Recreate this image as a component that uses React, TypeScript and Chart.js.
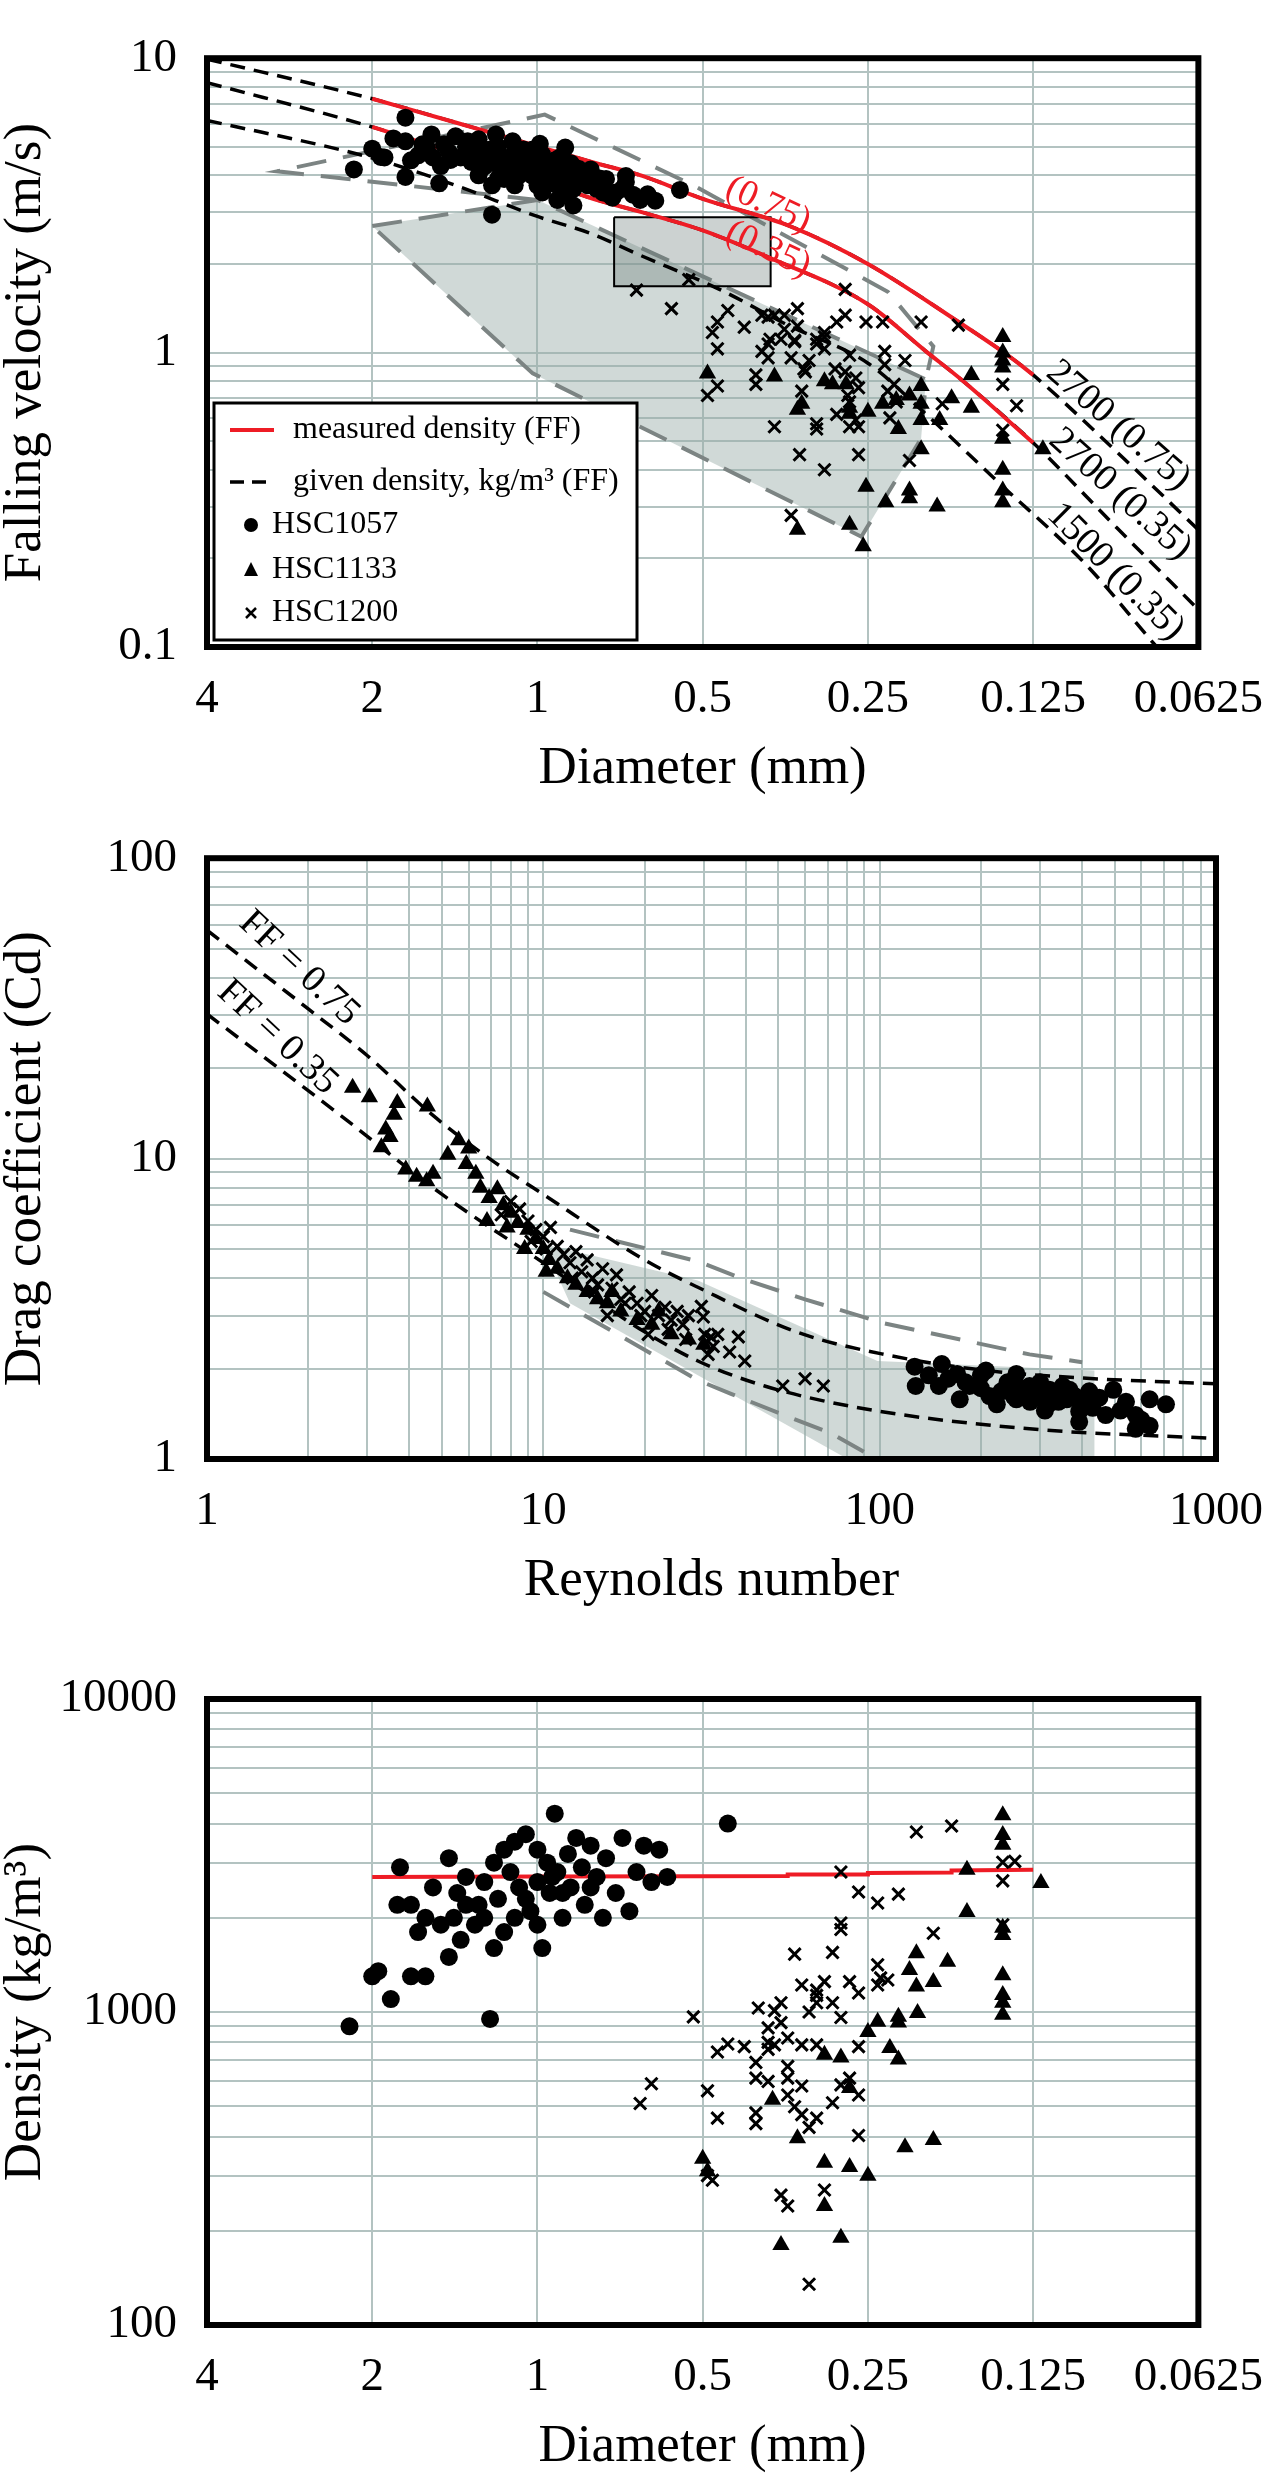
import React, { useEffect, useRef } from 'react';
import { Chart, registerables } from 'chart.js';

Chart.register(...registerables);

const FONT = '"Liberation Serif", "Times New Roman", Times, serif';
const RED = '#ee1c25';
const GRID = '#b3c3c1';
const GRAYDASH = '#7c8483';
const FILL = 'rgba(150,170,166,0.45)';
const BOXFILL = 'rgba(110,125,124,0.35)';

// ---------- axis ticks ----------
const diameterTicks = [4, 2, 1, 0.5, 0.25, 0.125, 0.0625];
const diameterLabels = ['4', '2', '1', '0.5', '0.25', '0.125', '0.0625'];

const velocityGrid = [0.1, 0.2, 0.3, 0.4, 0.5, 0.6, 0.7, 0.8, 0.9, 1, 2, 3, 4, 5, 6, 7, 8, 9, 10];
const velocityLabeled = [0.1, 1, 10];
const velocityLabels = ['0.1', '1', '10'];

const reynoldsGrid = [1, 2, 3, 4, 5, 6, 7, 8, 9, 10, 20, 30, 40, 50, 60, 70, 80, 90, 100, 200, 300, 400, 500, 600, 700, 800, 900, 1000];
const reynoldsLabeled = [1, 10, 100, 1000];
const reynoldsLabels = ['1', '10', '100', '1000'];

const dragGrid = [1, 2, 3, 4, 5, 6, 7, 8, 9, 10, 20, 30, 40, 50, 60, 70, 80, 90, 100];
const dragLabeled = [1, 10, 100];
const dragLabels = ['1', '10', '100'];

const densityGrid = [100, 200, 300, 400, 500, 600, 700, 800, 900, 1000, 2000, 3000, 4000, 5000, 6000, 7000, 8000, 9000, 10000];
const densityLabeled = [100, 1000, 10000];
const densityLabels = ['100', '1000', '10000'];

// ---------- panel 1: falling velocity vs diameter ----------
const velHSC1057 = [
  [1.74, 6.28], [1.83, 5.34], [1.74, 5.22], [2.0, 4.93], [1.93, 4.62], [2.16, 4.19], [1.74, 3.95], [1.51, 3.76],
  [1.56, 5.51], [1.59, 4.97], [1.65, 4.68], [1.41, 5.43], [1.44, 4.51], [1.34, 5.22], [1.32, 4.44], [1.25, 4.28],
  [1.19, 5.51], [1.17, 4.62], [1.15, 3.89], [1.21, 3.7], [1.11, 5.22], [1.09, 4.28], [1.02, 3.98], [0.99, 5.12],
  [0.95, 4.42], [0.92, 3.7], [0.89, 4.97], [0.88, 3.98], [0.86, 4.28], [0.8, 4.19], [0.75, 3.89], [0.73, 3.36],
  [0.69, 3.8], [0.86, 3.16], [1.21, 2.94], [1.04, 4.51], [1.0, 3.7], [0.8, 3.8], [0.74, 3.44], [0.69, 3.98],
  [0.67, 3.44], [0.61, 3.28], [0.55, 3.57], [1.3, 4.9], [1.25, 4.7], [1.2, 4.4], [1.1, 4.8], [1.05, 4.3],
  [1.0, 4.6], [0.97, 4.1], [0.93, 4.5], [0.9, 4.2], [0.85, 3.9], [0.82, 4.0], [0.78, 3.6], [1.15, 4.2],
  [1.08, 4.0], [1.0, 3.9], [0.95, 3.8], [1.38, 4.6], [1.45, 4.8], [1.62, 5.1], [1.7, 4.5], [1.9, 4.6],
  [1.28, 4.0], [0.88, 3.5], [0.92, 3.3], [0.72, 3.5], [0.65, 3.3],
  [1.35, 5.0], [1.28, 5.3], [1.22, 4.9], [1.18, 5.0], [1.12, 4.6], [1.06, 4.9], [1.03, 4.4], [0.98, 4.7],
  [0.96, 4.3], [0.94, 4.0], [0.91, 4.6], [0.87, 4.4], [0.84, 4.2], [0.81, 3.7], [0.77, 3.9], [0.76, 3.5],
  [0.7, 3.6], [1.26, 4.45], [1.14, 4.45], [1.07, 4.55], [1.5, 4.3], [1.55, 4.6], [1.48, 5.1], [1.18, 3.9],
  [1.1, 3.7], [0.98, 3.5], [0.9, 3.8], [1.02, 4.9], [0.86, 3.6], [0.63, 3.45],
];
const velHSC1133 = [
  [0.142, 1.13], [0.49, 0.85], [0.37, 0.83], [0.336, 0.64], [0.33, 0.67], [0.3, 0.8], [0.29, 0.78], [0.274, 0.78],
  [0.27, 0.65], [0.27, 0.62], [0.25, 0.63], [0.235, 0.67], [0.222, 0.69], [0.21, 0.715], [0.2, 0.77], [0.2, 0.67],
  [0.2, 0.59], [0.185, 0.59], [0.176, 0.7], [0.162, 0.84], [0.162, 0.65], [0.22, 0.55], [0.2, 0.47], [0.252, 0.35],
  [0.21, 0.34], [0.21, 0.32], [0.232, 0.31], [0.187, 0.3], [0.27, 0.26], [0.336, 0.25], [0.255, 0.22], [0.142, 0.94],
  [0.142, 0.89], [0.142, 0.51], [0.142, 0.4], [0.142, 0.34], [0.142, 0.31], [0.12, 0.47], [0.142, 1.0],
];
const velHSC1200 = [
  [0.66, 1.63], [0.57, 1.41], [0.53, 1.77], [0.45, 1.39], [0.47, 1.27], [0.48, 1.17], [0.47, 1.03], [0.42, 1.22],
  [0.39, 1.34], [0.38, 1.32], [0.37, 1.34], [0.355, 1.34], [0.336, 1.41], [0.355, 1.2], [0.336, 1.23], [0.377, 1.11],
  [0.34, 1.1], [0.31, 1.11], [0.3, 1.17], [0.275, 1.64], [0.275, 1.34], [0.285, 1.27], [0.252, 1.27], [0.235, 1.27],
  [0.233, 1.01], [0.2, 1.27], [0.171, 1.24], [0.39, 1.01], [0.38, 1.07], [0.36, 1.11], [0.34, 1.09], [0.38, 0.96],
  [0.345, 0.96], [0.32, 0.94], [0.327, 0.88], [0.4, 0.84], [0.4, 0.78], [0.325, 0.86], [0.287, 0.88], [0.27, 0.98],
  [0.275, 0.86], [0.263, 0.82], [0.3, 1.13], [0.31, 1.07], [0.3, 1.03], [0.233, 0.91], [0.214, 0.94], [0.26, 0.76],
  [0.33, 0.74], [0.49, 0.715], [0.47, 0.77], [0.272, 0.715], [0.27, 0.68], [0.23, 0.74], [0.224, 0.78], [0.222, 0.68],
  [0.285, 0.617], [0.263, 0.59], [0.27, 0.56], [0.26, 0.56], [0.31, 0.573], [0.31, 0.55], [0.37, 0.56], [0.228, 0.6],
  [0.183, 0.67], [0.142, 0.78], [0.142, 0.545], [0.134, 0.66], [0.333, 0.45], [0.26, 0.45], [0.3, 0.4], [0.21, 0.43],
  [0.345, 0.28],
];
const velMeasured075 = [[2, 7.28], [1.41, 6.05], [1, 5.03], [0.8, 4.45], [0.646, 3.99], [0.5, 3.33], [0.347, 2.69], [0.25, 2.0], [0.173, 1.29], [0.137, 0.96], [0.125, 0.84]];
const velMeasured035 = [[2, 5.84], [1.41, 4.75], [1, 3.88], [0.8, 3.35], [0.646, 3.0], [0.5, 2.6], [0.38, 2.11], [0.25, 1.46], [0.196, 1.01], [0.169, 0.81], [0.125, 0.494]];
const velGiven2700_075 = [[4, 9.93], [2, 7.28], [1.41, 6.05], [1, 5.03], [0.8, 4.45], [0.646, 3.99], [0.5, 3.33], [0.347, 2.69], [0.25, 2.0], [0.173, 1.29], [0.137, 0.96], [0.125, 0.84], [0.088, 0.46], [0.0625, 0.25]];
const velGiven2700_035 = [[4, 8.26], [2, 5.84], [1.41, 4.75], [1, 3.88], [0.8, 3.35], [0.646, 3.0], [0.5, 2.6], [0.38, 2.11], [0.25, 1.46], [0.196, 1.01], [0.169, 0.81], [0.125, 0.494], [0.088, 0.254], [0.0625, 0.134]];
const velGiven1500_035 = [[4, 6.15], [2, 4.58], [1.41, 3.7], [1, 2.9], [0.8, 2.54], [0.657, 2.16], [0.466, 1.64], [0.35, 1.24], [0.25, 0.92], [0.2, 0.64], [0.144, 0.36], [0.1, 0.19], [0.0744, 0.1], [0.0625, 0.07]];
const velRangeOutline = [[1.0, 3.3], [2.98, 4.13], [0.97, 6.43], [0.52, 3.7], [0.23, 1.61], [0.19, 1.05], [0.196, 0.81]];
const velRangeShaded = [[2.0, 2.69], [1.0, 3.3], [0.196, 0.81], [0.2, 0.51], [0.257, 0.237], [1.02, 0.85], [2.0, 2.69]];
const velInsetBox = [[0.725, 2.88], [0.376, 2.88], [0.376, 1.68], [0.725, 1.68], [0.725, 2.88]];

// ---------- panel 2: drag coefficient vs Reynolds number ----------
const cdHSC1057 = [
  [127, 2.03], [128, 1.75], [153, 2.07], [150, 1.75], [173, 1.58], [207, 1.97], [212, 1.62], [255, 1.92], [255, 1.58],
  [279, 1.75], [317, 1.66], [367, 1.7], [392, 1.44], [392, 1.33], [495, 1.7], [540, 1.55], [577, 1.4], [577, 1.26],
  [635, 1.58], [710, 1.52], [635, 1.29], [470, 1.4], [317, 1.52], [223, 1.52], [185, 1.75], [140, 1.9], [160, 1.85],
  [180, 1.8], [200, 1.72], [230, 1.68], [260, 1.72], [290, 1.6], [320, 1.7], [340, 1.55], [350, 1.75], [380, 1.62],
  [410, 1.55], [430, 1.48], [300, 1.8], [240, 1.8], [270, 1.65], [330, 1.62], [360, 1.58], [420, 1.68], [450, 1.6],
  [520, 1.45], [600, 1.35], [280, 1.55], [250, 1.62], [200, 1.9], [170, 1.92], [310, 1.45], [400, 1.5],
];
const cdHSC1133 = [
  [2.71, 17.2], [3.04, 16.0], [3.68, 15.3], [3.6, 14.0], [4.52, 14.9], [3.4, 12.5], [3.5, 11.8], [3.3, 10.9], [3.9, 9.2],
  [4.2, 8.7], [4.5, 8.4], [4.7, 8.9], [5.6, 11.5], [5.2, 10.3], [6.0, 10.8], [5.9, 9.6], [6.3, 8.9], [6.5, 8.0],
  [6.9, 7.4], [7.3, 7.9], [7.6, 7.0], [8.0, 6.6], [8.4, 6.1], [9.0, 5.8], [9.5, 5.4], [10.0, 5.0], [10.4, 4.6],
  [11.0, 4.3], [11.8, 4.0], [12.5, 3.8], [13.5, 3.6], [14.5, 3.4], [15.5, 3.3], [17, 3.1], [19, 2.9], [21, 2.8],
  [24, 2.6], [27, 2.5], [30, 2.4], [6.8, 6.2], [7.8, 5.9], [8.8, 5.0], [10.2, 4.2], [16, 3.6], [22, 3.1],
];
const cdHSC1200 = [
  [7.5, 6.5], [8, 7.2], [8.5, 6.8], [9, 6.2], [9.2, 5.3], [9.5, 5.8], [10, 5.5], [10.2, 5.0], [10.5, 5.9], [11, 5.1],
  [11.5, 4.8], [12, 4.5], [12.2, 4.0], [12.5, 4.9], [13, 4.2], [13.5, 4.6], [14, 4.0], [14.2, 3.6], [14.5, 3.8],
  [15, 4.3], [15.5, 3.0], [16, 3.7], [16.5, 4.1], [17, 3.4], [17.5, 3.3], [18, 3.6], [19, 3.3], [19.5, 3.0], [20, 3.1],
  [20.5, 2.6], [21, 3.5], [22, 3.0], [23, 3.2], [23.5, 2.7], [24, 2.9], [25, 3.1], [26, 2.8], [26.5, 2.5], [27, 3.0],
  [29.5, 3.22], [29.9, 2.97], [30.2, 2.6], [31.5, 2.55], [33, 2.6], [32, 2.37], [30.9, 2.23], [35.8, 2.27], [38, 2.55],
  [39.7, 2.12], [51.5, 1.75], [60, 1.85], [68, 1.75],
];
const cdFF075 = [[1, 57.6], [2, 31.5], [3, 22], [4.67, 14], [7, 9.9], [10, 7.6], [20, 4.6], [28.8, 3.73], [57, 2.64], [103, 2.23], [200, 1.98], [400, 1.86], [1000, 1.78]];
const cdFF035 = [[1, 30.3], [2.48, 14], [5, 7.6], [10, 4.5], [20, 2.65], [28.8, 2.12], [45.5, 1.75], [90, 1.47], [279, 1.26], [1000, 1.17]];
const cdRangeUpper = [[12, 5.8], [28.8, 4.55], [38.6, 4.0], [60, 3.4], [103, 2.83], [279, 2.23], [400, 2.1]];
const cdRangeLower = [[10, 3.6], [28.8, 1.83], [36, 1.65], [54.5, 1.37], [71.5, 1.22], [95, 1.02], [100, 0.98]];
const cdRangeShaded = [[10, 5.2], [28.8, 3.93], [98.5, 2.12], [435, 1.97], [435, 0.9], [95, 0.9], [28.8, 1.9], [12, 3.3], [10, 5.2]];

// ---------- panel 3: density vs diameter ----------
const rhoHSC1057 = [
  [2.2, 900], [2.0, 1300], [1.95, 1350], [1.85, 1100], [1.8, 2200], [1.78, 2900], [1.7, 1300], [1.65, 1800], [1.6, 2000],
  [1.55, 2500], [1.5, 1900], [1.45, 3100], [1.42, 2000], [1.4, 2400], [1.38, 1700], [1.35, 2700], [1.3, 1900],
  [1.28, 2200], [1.25, 2600], [1.22, 950], [1.2, 3000], [1.18, 2300], [1.15, 1800], [1.12, 2800], [1.1, 3500],
  [1.08, 2500], [1.05, 3700], [1.03, 2100], [1.0, 3300], [1.0, 2600], [0.98, 1600], [0.96, 3000], [0.95, 2400],
  [0.93, 4300], [0.92, 2800], [0.9, 2000], [0.88, 3200], [0.87, 2500], [0.85, 3600], [0.83, 2900], [0.82, 2200],
  [0.8, 3400], [0.78, 2700], [0.76, 2000], [0.75, 3100], [0.72, 2400], [0.7, 3600], [0.68, 2100], [0.66, 2800],
  [0.64, 3400], [0.62, 2600], [0.6, 3300], [0.58, 2700], [0.45, 4000], [1.15, 3300], [1.25, 2000], [1.35, 2200],
  [0.9, 2400], [0.94, 2700], [1.05, 2300], [1.1, 2000], [0.8, 2500], [1.0, 1900], [1.2, 1600], [1.45, 1500],
  [1.6, 1300], [1.7, 2200],
];
const rhoHSC1133 = [
  [0.142, 4255], [0.142, 3675], [0.142, 3420], [0.165, 2845], [0.121, 2583], [0.165, 2085], [0.142, 1762], [0.142, 1860],
  [0.204, 1542], [0.179, 1446], [0.21, 1361], [0.19, 1248], [0.204, 1206], [0.142, 1310], [0.142, 1133], [0.142, 1070],
  [0.142, 980], [0.203, 993], [0.22, 965], [0.22, 925], [0.24, 930], [0.25, 863], [0.228, 767], [0.3, 730], [0.28, 715],
  [0.22, 705], [0.27, 572], [0.373, 524], [0.336, 395], [0.19, 390], [0.214, 370], [0.5, 340], [0.49, 310], [0.3, 330],
  [0.36, 180], [0.28, 190], [0.3, 240], [0.25, 300], [0.27, 320],
];
const rhoHSC1200 = [
  [0.204, 3760], [0.176, 3930], [0.142, 3010], [0.135, 3030], [0.142, 2625], [0.28, 2800], [0.26, 2417], [0.24, 2230],
  [0.22, 2380], [0.28, 1925], [0.28, 1835], [0.19, 1785], [0.142, 1900], [0.34, 1530], [0.29, 1550], [0.24, 1415],
  [0.237, 1285], [0.23, 1265], [0.24, 1220], [0.33, 1220], [0.31, 1130], [0.31, 1175], [0.3, 1250], [0.27, 1250],
  [0.26, 1150], [0.31, 1070], [0.29, 1070], [0.32, 1000], [0.28, 960], [0.396, 1030], [0.37, 1010], [0.36, 1070],
  [0.38, 890], [0.36, 925], [0.35, 826], [0.33, 785], [0.31, 785], [0.26, 775], [0.38, 800], [0.37, 785], [0.38, 760],
  [0.4, 690], [0.42, 775], [0.45, 790], [0.47, 745], [0.52, 965], [0.35, 670], [0.4, 615], [0.38, 600], [0.35, 615],
  [0.33, 580], [0.28, 585], [0.27, 615], [0.26, 543], [0.35, 543], [0.49, 560], [0.47, 458], [0.4, 476], [0.4, 440],
  [0.34, 498], [0.33, 470], [0.31, 458], [0.32, 428], [0.29, 513], [0.26, 403], [0.32, 135], [0.35, 240], [0.36, 260],
  [0.3, 270], [0.49, 300], [0.48, 290], [0.62, 590], [0.65, 510],
];
const rhoMeasured = [[2, 2700], [1, 2710], [0.5, 2715], [0.35, 2720], [0.35, 2750], [0.25, 2750], [0.25, 2780], [0.176, 2790], [0.176, 2830], [0.125, 2845]];

// ---------- helpers ----------
const pts = (arr: number[][]) => arr.map(([x, y]) => ({ x, y }));

type AxisSpec = { min: number; max: number; reverse?: boolean; grid: number[]; labeled: number[]; labels: string[]; title: string };

function makeScales(x: AxisSpec, y: AxisSpec, xHeight: number) {
  const tickFont = { family: FONT, size: 47 };
  const titleFont = { family: FONT, size: 53, lineHeight: 1 };
  return {
    x: {
      type: 'logarithmic', position: 'bottom', min: x.min, max: x.max, reverse: !!x.reverse,
      afterBuildTicks: (s: any) => { s.ticks = x.grid.map((v) => ({ value: v })); },
      afterFit: (s: any) => { s.height = xHeight; },
      grid: { color: GRID, lineWidth: 2, drawTicks: false },
      border: { display: false },
      ticks: {
        autoSkip: false, maxRotation: 0, minRotation: 0, padding: 24, color: '#000', font: tickFont,
        callback: (v: any) => { const i = x.labeled.indexOf(Number(v)); return i >= 0 ? x.labels[i] : ''; },
      },
      title: { display: true, text: x.title, color: '#000', font: titleFont, padding: { top: 0, bottom: 0 } },
    },
    y: {
      type: 'logarithmic', position: 'left', min: y.min, max: y.max,
      afterBuildTicks: (s: any) => { s.ticks = y.grid.map((v) => ({ value: v })); },
      afterFit: (s: any) => { s.width = 207; },
      grid: { color: GRID, lineWidth: 2, drawTicks: false },
      border: { display: false },
      ticks: {
        autoSkip: false, padding: 30, color: '#000', font: tickFont,
        callback: (v: any) => { const i = y.labeled.indexOf(Number(v)); return i >= 0 ? y.labels[i] : ''; },
      },
      title: { display: true, text: y.title, color: '#000', font: titleFont, padding: { top: 0, bottom: 0 } },
    },
  };
}

const scatterSet = (label: string, data: number[][], style: string, order: number) => ({
  label, data: pts(data), showLine: false, order,
  pointStyle: style,
  pointRadius: style === 'circle' ? 9 : style === 'triangle' ? 10 : 8.5,
  pointBackgroundColor: '#000',
  pointBorderColor: '#000',
  pointBorderWidth: style === 'crossRot' ? 3 : 0,
});

const lineSet = (label: string, data: number[][], color: string, width: number, dash: number[], order: number, smooth = true) => ({
  label, data: pts(data), showLine: true, order,
  borderColor: color, borderWidth: width, borderDash: dash, pointRadius: 0, fill: false,
  cubicInterpolationMode: smooth ? 'monotone' : 'default', tension: 0,
});

const shapeSet = (label: string, data: number[][], fillColor: string, lineColor: string, width: number, dash: number[], order: number) => ({
  label, data: pts(data), showLine: true, order,
  borderColor: lineColor, borderWidth: width, borderDash: dash, pointRadius: 0,
  backgroundColor: fillColor, fill: 'shape', tension: 0,
});

const framePlugin = {
  id: 'frame',
  afterDraw(chart: any) {
    const { ctx, chartArea: { left, top, right, bottom } } = chart;
    ctx.save();
    ctx.strokeStyle = '#000';
    ctx.lineWidth = 6;
    ctx.strokeRect(left, top, right - left, bottom - top);
    ctx.restore();
  },
};

type Note = { text: string; x: number; y: number; angle: number; color: string; size: number };

const notesPlugin = (notes: Note[]) => ({
  id: 'notes',
  afterDatasetsDraw(chart: any) {
    const { ctx, scales } = chart;
    notes.forEach((n) => {
      const px = scales.x.getPixelForValue(n.x);
      const py = scales.y.getPixelForValue(n.y);
      ctx.save();
      ctx.translate(px, py);
      ctx.rotate((n.angle * Math.PI) / 180);
      ctx.font = `${n.size}px ${FONT}`;
      ctx.fillStyle = n.color;
      ctx.textAlign = 'center';
      ctx.textBaseline = 'middle';
      ctx.fillText(n.text, 0, 0);
      ctx.restore();
    });
  },
});

const legendItems = ['measured density (FF)', 'given density, kg/m³ (FF)', 'HSC1057', 'HSC1133', 'HSC1200'];

const legendPlugin = {
  id: 'customLegend',
  afterDraw(chart: any) {
    const { ctx } = chart;
    const x0 = 214, y0 = 403, x1 = 637, y1 = 640;
    ctx.save();
    ctx.fillStyle = '#fff';
    ctx.fillRect(x0, y0, x1 - x0, y1 - y0);
    ctx.strokeStyle = '#000';
    ctx.lineWidth = 3;
    ctx.strokeRect(x0, y0, x1 - x0, y1 - y0);
    ctx.font = `32px ${FONT}`;
    ctx.textBaseline = 'middle';
    ctx.fillStyle = '#000';
    ctx.strokeStyle = RED; ctx.lineWidth = 4; ctx.setLineDash([]);
    ctx.beginPath(); ctx.moveTo(230, 430); ctx.lineTo(274, 430); ctx.stroke();
    ctx.fillText(legendItems[0], 293, 430);
    ctx.strokeStyle = '#000'; ctx.lineWidth = 3.5; ctx.setLineDash([14, 8]);
    ctx.beginPath(); ctx.moveTo(230, 482); ctx.lineTo(274, 482); ctx.stroke();
    ctx.setLineDash([]);
    ctx.fillText(legendItems[1], 293, 482);
    ctx.beginPath(); ctx.arc(251, 525, 7, 0, Math.PI * 2); ctx.fill();
    ctx.fillText(legendItems[2], 272, 525);
    ctx.beginPath(); ctx.moveTo(251, 562); ctx.lineTo(258, 576); ctx.lineTo(244, 576); ctx.closePath(); ctx.fill();
    ctx.fillText(legendItems[3], 272, 570);
    ctx.lineWidth = 2.5;
    ctx.beginPath(); ctx.moveTo(246, 608); ctx.lineTo(256, 618); ctx.moveTo(256, 608); ctx.lineTo(246, 618); ctx.stroke();
    ctx.fillText(legendItems[4], 272, 613);
    ctx.restore();
  },
};

const velocityNotes: Note[] = [
  { text: '(0.75)', x: 0.38, y: 3.17, angle: 25, color: RED, size: 37 },
  { text: '(0.35)', x: 0.38, y: 2.24, angle: 25, color: RED, size: 37 },
  { text: '2700 (0.75)', x: 0.0875, y: 0.565, angle: 41, color: '#000', size: 38 },
  { text: '2700 (0.35)', x: 0.0868, y: 0.33, angle: 42, color: '#000', size: 38 },
  { text: '1500 (0.35)', x: 0.0885, y: 0.18, angle: 45, color: '#000', size: 38 },
];
const dragNotes: Note[] = [
  { text: 'FF = 0.75', x: 1.88, y: 43, angle: 43, color: '#000', size: 38 },
  { text: 'FF = 0.35', x: 1.62, y: 25.3, angle: 43, color: '#000', size: 38 },
];

const baseOptions = (scales: any, padTop: number) => ({
  responsive: false,
  animation: false,
  devicePixelRatio: 1,
  layout: { padding: { top: padTop, right: 67, left: 0, bottom: 0 }, autoPadding: false },
  plugins: { legend: { display: false }, tooltip: { enabled: false } },
  scales,
});

export default function App() {
  const c1 = useRef<HTMLCanvasElement>(null);
  const c2 = useRef<HTMLCanvasElement>(null);
  const c3 = useRef<HTMLCanvasElement>(null);

  useEffect(() => {
    document.body.style.margin = '0';
    Chart.defaults.color = '#000';
    const diamAxis = { min: 0.0625, max: 4, reverse: true, grid: diameterTicks, labeled: diameterTicks, labels: diameterLabels, title: 'Diameter (mm)' };

    const chart1 = new Chart(c1.current as HTMLCanvasElement, {
      type: 'scatter',
      data: {
        datasets: [
          scatterSet('HSC1057', velHSC1057, 'circle', 0),
          scatterSet('HSC1133', velHSC1133, 'triangle', 1),
          scatterSet('HSC1200', velHSC1200, 'crossRot', 2),
          lineSet('measured density (0.75)', velMeasured075, RED, 4, [], 3),
          lineSet('measured density (0.35)', velMeasured035, RED, 4, [], 4),
          lineSet('2700 (0.75)', velGiven2700_075, '#000', 3.5, [15, 9], 5),
          lineSet('2700 (0.35)', velGiven2700_035, '#000', 3.5, [15, 9], 6),
          lineSet('1500 (0.35)', velGiven1500_035, '#000', 3.5, [15, 9], 7),
          shapeSet('inset', velInsetBox, BOXFILL, '#000', 2, [], 8),
          lineSet('range HSC1057', velRangeOutline, GRAYDASH, 4, [30, 17], 9, false),
          shapeSet('range HSC1133/1200', velRangeShaded, FILL, GRAYDASH, 4, [30, 17], 10),
        ] as any,
      },
      options: baseOptions(makeScales(diamAxis, { min: 0.1, max: 10, grid: velocityGrid, labeled: velocityLabeled, labels: velocityLabels, title: 'Falling velocity (m/s)' }, 149), 22) as any,
      plugins: [notesPlugin(velocityNotes), framePlugin, legendPlugin],
    });

    const chart2 = new Chart(c2.current as HTMLCanvasElement, {
      type: 'scatter',
      data: {
        datasets: [
          scatterSet('HSC1057', cdHSC1057, 'circle', 0),
          scatterSet('HSC1133', cdHSC1133, 'triangle', 1),
          scatterSet('HSC1200', cdHSC1200, 'crossRot', 2),
          lineSet('FF = 0.75', cdFF075, '#000', 3.5, [15, 9], 3),
          lineSet('FF = 0.35', cdFF035, '#000', 3.5, [15, 9], 4),
          lineSet('range upper', cdRangeUpper, GRAYDASH, 4, [30, 17], 5, false),
          lineSet('range lower', cdRangeLower, GRAYDASH, 4, [30, 17], 6, false),
          shapeSet('range shaded', cdRangeShaded, FILL, 'rgba(0,0,0,0)', 0, [], 7),
        ] as any,
      },
      options: baseOptions(makeScales(
        { min: 1, max: 1000, grid: reynoldsGrid, labeled: reynoldsLabeled, labels: reynoldsLabels, title: 'Reynolds number' },
        { min: 1, max: 100, grid: dragGrid, labeled: dragLabeled, labels: dragLabels, title: 'Drag coefficient (Cd)' }, 149), 33) as any,
      plugins: [notesPlugin(dragNotes), framePlugin],
    });

    const chart3 = new Chart(c3.current as HTMLCanvasElement, {
      type: 'scatter',
      data: {
        datasets: [
          scatterSet('HSC1057', rhoHSC1057, 'circle', 0),
          scatterSet('HSC1133', rhoHSC1133, 'triangle', 1),
          scatterSet('HSC1200', rhoHSC1200, 'crossRot', 2),
          lineSet('measured density', rhoMeasured, RED, 4, [], 3, false),
        ] as any,
      },
      options: baseOptions(makeScales(diamAxis, { min: 100, max: 10000, grid: densityGrid, labeled: densityLabeled, labels: densityLabels, title: 'Density (kg/m³)' }, 149), 89) as any,
      plugins: [framePlugin],
    });

    return () => { chart1.destroy(); chart2.destroy(); chart3.destroy(); };
  }, []);

  return (
    <div style={{ position: 'relative', width: 1287, height: 2481, background: '#fff', overflow: 'hidden' }}>
      <canvas ref={c1} width={1287} height={796} style={{ position: 'absolute', left: 0, top: 0 }} />
      <canvas ref={c2} width={1287} height={808} style={{ position: 'absolute', left: 0, top: 800 }} />
      <canvas ref={c3} width={1287} height={864} style={{ position: 'absolute', left: 0, top: 1610 }} />
    </div>
  );
}
